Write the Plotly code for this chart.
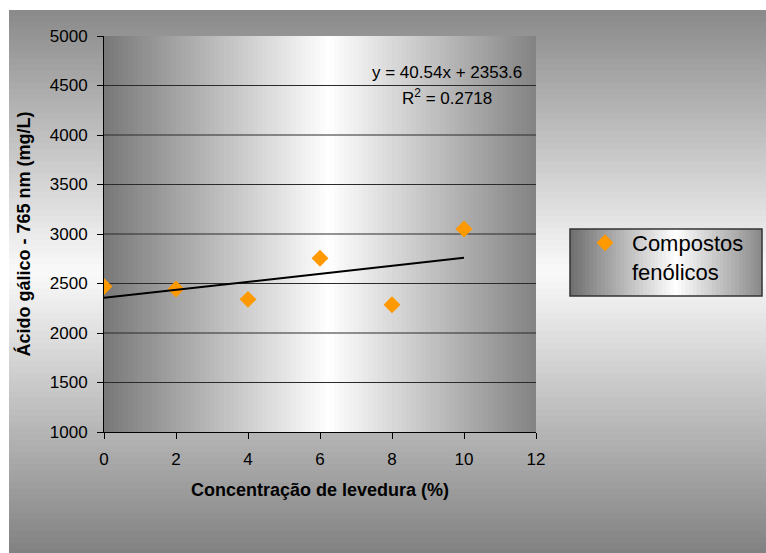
import numpy as np
import plotly.graph_objects as go

# ---- data ----
levedura = [0, 2, 4, 6, 8, 10]
compostos_fenolicos = [2470, 2445, 2340, 2755, 2285, 3050]
serie_nome = "Compostos<br>fenólicos"
eq_text = "y = 40.54x + 2353.6"
r2_text = "R<sup>2</sup> = 0.2718"
x_ticks = [0, 2, 4, 6, 8, 10, 12]
y_ticks = [1000, 1500, 2000, 2500, 3000, 3500, 4000, 4500, 5000]
x_title = "Concentração de levedura (%)"
y_title = "Ácido gálico - 765 nm (mg/L)"

# trendline from a least-squares fit of the data
slope, intercept = np.polyfit(levedura, compostos_fenolicos, 1)
trend_x = [min(levedura), max(levedura)]
trend_y = [slope * v + intercept for v in trend_x]

W, H = 766, 553
L, R, T, B = 104, 536, 36, 432  # plot area in pixels
FONT = "Liberation Sans, Arial, sans-serif"


def px2paper(px, py):
    return (px - L) / (R - L), (B - py) / (B - T)


def grad(t, center, edge, white=255):
    d = abs(t - center) / max(center, 1 - center)
    g = int(round(white * (1 - d) + edge * d))
    return f"rgb({g},{g},{g})"


shapes = []


def stripes(px0, py0, px1, py1, vertical_bands, n, center, edge, white=255):
    x0, y0 = px2paper(px0, py0)
    x1, y1 = px2paper(px1, py1)
    for i in range(n):
        t = (i + 0.5) / n
        col = grad(t, center, edge, white)
        if vertical_bands:  # gradient along x
            a = x0 + (x1 - x0) * i / n
            b = x0 + (x1 - x0) * (i + 1.6) / n
            b = min(b, x1)
            shapes.append(dict(type="rect", xref="paper", yref="paper", x0=a, x1=b,
                               y0=y0, y1=y1, fillcolor=col, line=dict(width=0), layer="below"))
        else:  # gradient along y
            a = y0 + (y1 - y0) * i / n
            b = y0 + (y1 - y0) * (i + 1.6) / n
            if (y1 - y0) > 0:
                b = min(b, y1)
            else:
                b = max(b, y1)
            shapes.append(dict(type="rect", xref="paper", yref="paper", x0=x0, x1=x1,
                               y0=a, y1=b, fillcolor=col, line=dict(width=0), layer="below"))


# outer chart area: vertical gradient
stripes(9, 10, W + 2, H + 2, False, 90, 0.48, 128, 250)
# plot area: horizontal gradient
stripes(L, T, R, B, True, 90, 0.52, 120, 255)
# legend box: horizontal gradient
stripes(570, 229, 762, 296, True, 50, 0.55, 110, 255)
lx0, ly0 = px2paper(570, 229)
lx1, ly1 = px2paper(762, 296)
shapes.append(dict(type="rect", xref="paper", yref="paper", x0=lx0, x1=lx1, y0=ly1, y1=ly0,
                   line=dict(color="#333333", width=1.5), fillcolor="rgba(0,0,0,0)", layer="below"))

# horizontal gridlines (not on top/bottom edges)
for v in y_ticks[1:-1]:
    shapes.append(dict(type="line", xref="paper", yref="y", x0=0, x1=1, y0=v, y1=v,
                       line=dict(color="#2a2a2a", width=1), layer="below"))

fig = go.Figure()
fig.add_trace(go.Scatter(
    x=levedura, y=compostos_fenolicos, mode="markers", name=serie_nome,
    marker=dict(symbol="diamond", size=13, color="#FF9900", line=dict(width=0)),
))
fig.add_trace(go.Scatter(
    x=trend_x, y=trend_y, mode="lines", showlegend=False, hoverinfo="skip",
    line=dict(color="black", width=2),
))

ax_x, _ = px2paper(447, 0)
_, ay1 = px2paper(0, 72)
_, ay2 = px2paper(0, 97)

fig.update_layout(
    width=W, height=H,
    margin=dict(l=L, r=W - R, t=T, b=H - B, pad=0),
    paper_bgcolor="white",
    plot_bgcolor="rgba(0,0,0,0)",
    font=dict(family=FONT, size=17, color="black"),
    shapes=shapes,
    showlegend=True,
    legend=dict(
        x=px2paper(578, 0)[0], y=px2paper(0, 222)[1], xanchor="left", yanchor="top",
        bgcolor="rgba(0,0,0,0)", borderwidth=0, valign="top",
        font=dict(family=FONT, size=22, color="black"), itemwidth=44,
    ),
    annotations=[
        dict(xref="paper", yref="paper", x=ax_x, y=ay1, text=eq_text, showarrow=False,
             xanchor="center", yanchor="middle", font=dict(family=FONT, size=17)),
        dict(xref="paper", yref="paper", x=ax_x, y=ay2, text=r2_text, showarrow=False,
             xanchor="center", yanchor="middle", font=dict(family=FONT, size=17)),
    ],
)
fig.update_xaxes(
    range=[0, 12], tickvals=x_ticks, showgrid=False, zeroline=False,
    showline=True, linecolor="black", linewidth=1,
    ticks="outside", ticklen=6, tickcolor="black", tickwidth=1,
    ticklabelstandoff=6, tickfont=dict(family=FONT, size=17),
    title=dict(text=f"<b>{x_title}</b>", font=dict(family=FONT, size=18), standoff=14),
)
fig.update_yaxes(
    range=[1000, 5000], tickvals=y_ticks, showgrid=False, zeroline=False,
    showline=True, linecolor="black", linewidth=1,
    ticks="outside", ticklen=6, tickcolor="black", tickwidth=1,
    ticklabelstandoff=6, tickfont=dict(family=FONT, size=17),
    title=dict(text=f"<b>{y_title}</b>", font=dict(family=FONT, size=18), standoff=14),
)

fig.write_html("out.html")
